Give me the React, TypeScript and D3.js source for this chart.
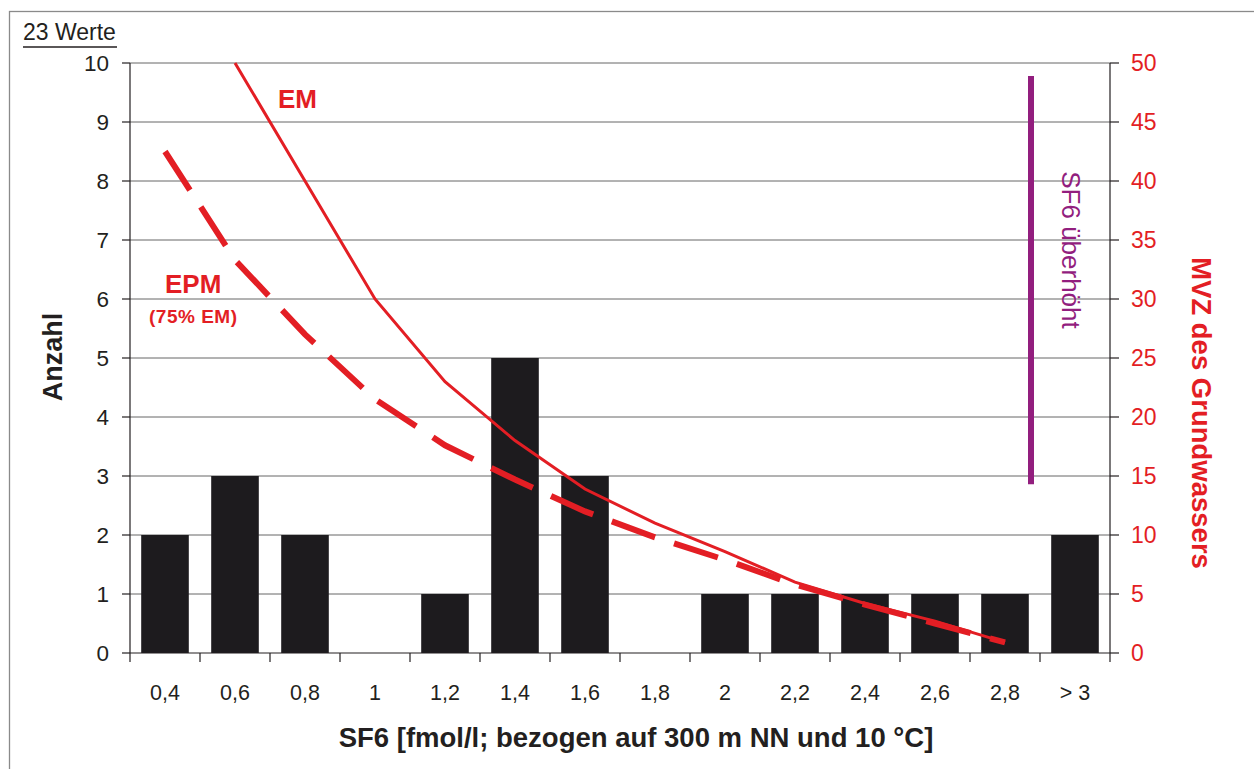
import React, { useEffect, useRef } from "react";
import * as d3 from "d3";

// Kategorien (SF6-Klassen) und Anzahl Werte
const categories = ["0,4", "0,6", "0,8", "1", "1,2", "1,4", "1,6", "1,8", "2", "2,2", "2,4", "2,6", "2,8", "> 3"];
const counts = [2, 3, 2, 0, 1, 5, 3, 0, 1, 1, 1, 1, 1, 2];

// MVZ Kurven (rechte Achse)
const emCats = ["0,6", "0,8", "1", "1,2", "1,4", "1,6", "1,8", "2", "2,2", "2,4", "2,6", "2,8"];
const emValues = [50, 40, 30, 23, 18, 13.9, 11, 8.6, 6, 4.2, 2.7, 0.9];
const epmCats = ["0,4", "0,6", "0,8", "1", "1,2", "1,4", "1,6", "1,8", "2", "2,2", "2,4", "2,6", "2,8"];
const epmValues = [42.5, 33.3, 27, 21.5, 17.6, 14.7, 12, 9.8, 7.9, 5.8, 4.1, 2.5, 0.9];

// SF6 überhöht Markierung
const excessRange = [14.3, 48.9];

const leftTicks = [0, 1, 2, 3, 4, 5, 6, 7, 8, 9, 10];
const rightTicks = [0, 5, 10, 15, 20, 25, 30, 35, 40, 45, 50];

const FONT = "'Liberation Sans', Arial, sans-serif";
const RED = "#e31e24";
const PURPLE = "#921e7e";
const DARK = "#231f20";

const App = () => {
  const ref = useRef<SVGSVGElement>(null);

  useEffect(() => {
    const svg = d3.select(ref.current);
    svg.selectAll("*").remove();

    const m = { left: 130, right: 1110, top: 63, bottom: 653 };

    const x = d3.scaleBand().domain(categories).range([m.left, m.right]).paddingInner(0.32).paddingOuter(0.16);
    const xb = d3.scaleBand().domain(categories).range([m.left, m.right]);
    const y = d3.scaleLinear().domain([0, 10]).range([m.bottom, m.top]);
    const y2 = d3.scaleLinear().domain([0, 50]).range([m.bottom, m.top]);

    // Rahmen
    svg.append("rect")
      .attr("x", 9.5).attr("y", 11.5).attr("width", 1300).attr("height", 800)
      .attr("fill", "none").attr("stroke", "#8a8a8a").attr("stroke-width", 1.3);

    // "23 Werte"
    svg.append("text").attr("x", 23).attr("y", 40)
      .attr("font-family", FONT).attr("font-size", 23).attr("fill", DARK).text("23 Werte");
    svg.append("line").attr("x1", 23).attr("x2", 117).attr("y1", 47).attr("y2", 47)
      .attr("stroke", DARK).attr("stroke-width", 1.3);

    // Gitterlinien
    svg.append("g").selectAll("line").data(leftTicks.slice(1)).join("line")
      .attr("x1", m.left).attr("x2", m.right)
      .attr("y1", (d) => y(d)).attr("y2", (d) => y(d))
      .attr("stroke", "#666").attr("stroke-width", 1);

    // Balken
    svg.append("g").selectAll("rect").data(counts).join("rect")
      .attr("x", (_, i) => x(categories[i]) as number)
      .attr("width", x.bandwidth())
      .attr("y", (d) => y(d))
      .attr("height", (d) => y(0) - y(d))
      .attr("fill", "#1d1b1e");

    // Achsen
    const axisStroke = (g) => g.attr("stroke", DARK).attr("stroke-width", 1.2);
    svg.append("line").attr("x1", m.left).attr("x2", m.left).attr("y1", m.top).attr("y2", m.bottom).call(axisStroke);
    svg.append("line").attr("x1", m.right).attr("x2", m.right).attr("y1", m.top).attr("y2", m.bottom).call(axisStroke);
    svg.append("line").attr("x1", m.left).attr("x2", m.right).attr("y1", m.bottom).attr("y2", m.bottom).call(axisStroke);

    // linke Achse
    const gl = svg.append("g");
    gl.selectAll("line").data(leftTicks).join("line")
      .attr("x1", m.left - 8).attr("x2", m.left).attr("y1", (d) => y(d)).attr("y2", (d) => y(d)).call(axisStroke);
    gl.selectAll("text").data(leftTicks).join("text")
      .attr("x", 109).attr("y", (d) => y(d) + 8)
      .attr("text-anchor", "end").attr("font-family", FONT).attr("font-size", 22.5).attr("fill", DARK)
      .text((d) => d);

    // rechte Achse
    const gr = svg.append("g");
    gr.selectAll("line").data(rightTicks).join("line")
      .attr("x1", m.right).attr("x2", m.right + 9).attr("y1", (d) => y2(d)).attr("y2", (d) => y2(d)).call(axisStroke);
    gr.selectAll("text").data(rightTicks).join("text")
      .attr("x", 1131).attr("y", (d) => y2(d) + 8)
      .attr("font-family", FONT).attr("font-size", 23).attr("fill", RED)
      .text((d) => d);

    // x-Achse
    const gx = svg.append("g");
    const bounds = categories.map((c) => xb(c) as number).concat([m.right]);
    gx.selectAll("line").data(bounds).join("line")
      .attr("x1", (d) => d).attr("x2", (d) => d).attr("y1", m.bottom).attr("y2", m.bottom + 9).call(axisStroke);
    gx.selectAll("text").data(categories).join("text")
      .attr("x", (d) => (xb(d) as number) + xb.bandwidth() / 2).attr("y", 700)
      .attr("text-anchor", "middle").attr("font-family", FONT).attr("font-size", 21.5).attr("fill", DARK)
      .text((d) => d);

    // Achsentitel
    svg.append("text").attr("x", 636).attr("y", 747).attr("text-anchor", "middle")
      .attr("font-family", FONT).attr("font-weight", "bold").attr("font-size", 27.5).attr("fill", DARK)
      .text("SF6 [fmol/l; bezogen auf 300 m NN und 10 °C]");
    svg.append("text").attr("transform", "translate(62,357) rotate(-90)").attr("text-anchor", "middle")
      .attr("font-family", FONT).attr("font-weight", "bold").attr("font-size", 27).attr("fill", DARK)
      .text("Anzahl");
    svg.append("text").attr("transform", "translate(1192,413) rotate(90)").attr("text-anchor", "middle")
      .attr("font-family", FONT).attr("font-weight", "bold").attr("font-size", 27.5).attr("fill", RED)
      .text("MVZ des Grundwassers");

    // Kurven
    const cx = (c) => (xb(c) as number) + xb.bandwidth() / 2;
    const line = d3.line<[string, number]>().x((d) => cx(d[0])).y((d) => y2(d[1]));

    svg.append("path").datum(d3.zip(epmCats, epmValues) as [string, number][])
      .attr("d", line).attr("fill", "none").attr("stroke", RED)
      .attr("stroke-width", 6).attr("stroke-dasharray", "46 20");
    svg.append("path").datum(d3.zip(emCats, emValues) as [string, number][])
      .attr("d", line).attr("fill", "none").attr("stroke", RED).attr("stroke-width", 3);

    // Kurvenbeschriftung
    svg.append("text").attr("x", 278).attr("y", 108)
      .attr("font-family", FONT).attr("font-weight", "bold").attr("font-size", 26).attr("fill", RED).text("EM");
    svg.append("text").attr("x", 165).attr("y", 293)
      .attr("font-family", FONT).attr("font-weight", "bold").attr("font-size", 26).attr("fill", RED).text("EPM");
    svg.append("text").attr("x", 149).attr("y", 323).attr("letter-spacing", 0.5)
      .attr("font-family", FONT).attr("font-weight", "bold").attr("font-size", 19).attr("fill", RED).text("(75% EM)");

    // SF6 überhöht
    svg.append("line").attr("x1", 1031).attr("x2", 1031)
      .attr("y1", y2(excessRange[1])).attr("y2", y2(excessRange[0]))
      .attr("stroke", PURPLE).attr("stroke-width", 6);
    svg.append("text").attr("transform", "translate(1062,250) rotate(90)").attr("text-anchor", "middle")
      .attr("font-family", FONT).attr("font-size", 26).attr("fill", PURPLE)
      .text("SF6 überhöht");

    return () => {
      d3.select(ref.current).selectAll("*").remove();
    };
  }, []);

  return (
    <svg ref={ref} width={1254} height={769}
      style={{ position: "absolute", left: 0, top: 0, background: "#fff" }} />
  );
};

export default App;
